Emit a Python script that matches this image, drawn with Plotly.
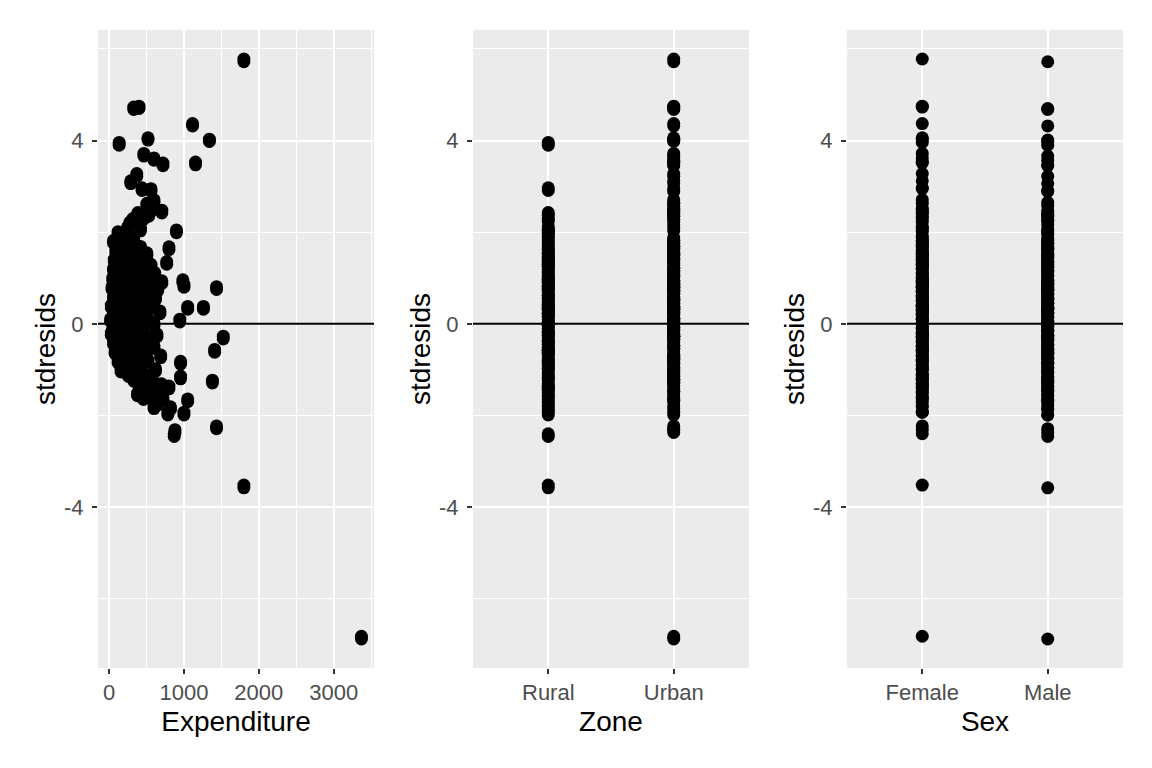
import plotly.graph_objects as go
from plotly.subplots import make_subplots

# one entry per household; each household has a female and a male residual
expenditure = [
    1800, 3370, 1800, 330, 400, 1115, 1340, 520, 135, 465,
    600, 720, 1155, 370, 290, 440, 560, 505, 600, 385,
    530, 705, 900, 280, 120, 95, 800, 770, 505, 225,
    705, 985, 1000, 1435, 1050, 1260, 945, 1525, 1410, 1380,
    955, 955, 800, 1050, 1000, 785, 650, 870, 880, 1435,
    320, 250, 420, 460, 560, 180, 330, 260, 60, 150,
    420, 90, 310, 200, 380, 70, 450, 300, 130, 300,
    560, 60, 240, 420, 110, 350, 610, 50, 200, 480,
    140, 300, 550, 40, 230, 420, 650, 100, 330, 500,
    60, 200, 400, 620, 150, 280, 460, 30, 220, 350,
    560, 100, 300, 480, 680, 60, 180, 400, 20, 250,
    520, 120, 340, 600, 50, 220, 450, 30, 160, 380,
    640, 90, 280, 520, 60, 200, 420, 130, 330, 600,
    80, 250, 480, 160, 380, 690, 120, 300, 520, 200,
    420, 160, 350, 620, 260, 500, 330, 580, 400, 700,
    480, 620, 560, 380, 460, 720, 600, 820,
]
zone = [
    "Urban", "Urban", "Rural", "Urban", "Urban", "Urban", "Urban", "Urban", "Rural", "Urban",
    "Urban", "Urban", "Urban", "Urban", "Urban", "Rural", "Urban", "Urban", "Urban", "Rural",
    "Urban", "Urban", "Rural", "Urban", "Rural", "Urban", "Urban", "Rural", "Urban", "Rural",
    "Urban", "Rural", "Urban", "Urban", "Rural", "Urban", "Urban", "Urban", "Rural", "Urban",
    "Rural", "Urban", "Rural", "Urban", "Rural", "Urban", "Rural", "Rural", "Urban", "Urban",
    "Rural", "Rural", "Urban", "Urban", "Urban", "Rural", "Urban", "Rural", "Urban", "Urban",
    "Rural", "Rural", "Urban", "Urban", "Rural", "Urban", "Urban", "Rural", "Rural", "Urban",
    "Rural", "Urban", "Rural", "Urban", "Rural", "Urban", "Urban", "Urban", "Rural", "Rural",
    "Urban", "Rural", "Urban", "Rural", "Urban", "Rural", "Urban", "Urban", "Rural", "Urban",
    "Rural", "Urban", "Rural", "Urban", "Urban", "Rural", "Urban", "Rural", "Urban", "Urban",
    "Rural", "Urban", "Rural", "Urban", "Urban", "Rural", "Urban", "Rural", "Urban", "Rural",
    "Urban", "Rural", "Urban", "Rural", "Urban", "Rural", "Urban", "Rural", "Urban", "Rural",
    "Urban", "Urban", "Rural", "Urban", "Rural", "Urban", "Rural", "Urban", "Rural", "Urban",
    "Rural", "Urban", "Rural", "Urban", "Urban", "Rural", "Rural", "Urban", "Urban", "Urban",
    "Rural", "Rural", "Urban", "Urban", "Urban", "Rural", "Rural", "Urban", "Urban", "Rural",
    "Rural", "Urban", "Urban", "Rural", "Rural", "Urban", "Urban", "Rural",
]
resid_female = [
    5.78, -6.82, -3.52, 4.73, 4.75, 4.37, 4.03, 4.06, 3.96, 3.72,
    3.62, 3.51, 3.53, 3.28, 3.12, 2.97, 2.95, 2.63, 2.71, 2.43,
    2.41, 2.48, 2.05, 2.22, 2.01, 1.75, 1.68, 1.36, 1.55, 1.46,
    0.94, 0.96, 0.86, 0.81, 0.38, 0.38, 0.10, -0.27, -0.56, -1.23,
    -0.82, -1.14, -1.36, -1.64, -1.93, -1.93, -1.71, -2.40, -2.31, -2.23,
    2.30, 2.12, 2.09, 2.34, 2.52, 1.91, 1.88, 1.80, 1.82, 1.71,
    1.69, 1.61, 1.58, 1.50, 1.52, 1.41, 1.39, 1.42, 1.31, 1.28,
    1.30, 1.21, 1.19, 1.22, 1.11, 1.09, 1.12, 1.01, 0.99, 1.02,
    0.91, 0.89, 0.92, 0.81, 0.79, 0.82, 0.78, 0.71, 0.69, 0.72,
    0.61, 0.59, 0.62, 0.58, 0.51, 0.49, 0.52, 0.41, 0.39, 0.42,
    0.40, 0.31, 0.29, 0.32, 0.28, 0.21, 0.19, 0.22, 0.11, 0.09,
    0.12, 0.01, -0.01, 0.02, -0.09, -0.11, -0.08, -0.19, -0.21, -0.18,
    -0.22, -0.29, -0.31, -0.28, -0.39, -0.41, -0.38, -0.49, -0.51, -0.48,
    -0.59, -0.61, -0.58, -0.69, -0.71, -0.68, -0.79, -0.81, -0.78, -0.89,
    -0.91, -0.99, -1.01, -0.98, -1.09, -1.11, -1.19, -1.21, -1.29, -1.31,
    -1.39, -1.41, -1.49, -1.51, -1.59, -1.61, -1.79, -1.81,
]
resid_male = [
    5.72, -6.88, -3.58, 4.68, 4.70, 4.32, 3.98, 4.01, 3.90, 3.66,
    3.57, 3.45, 3.47, 3.22, 3.06, 2.91, 2.89, 2.57, 2.65, 2.37,
    2.35, 2.42, 1.99, 2.16, 1.95, 1.69, 1.62, 1.30, 1.49, 1.40,
    0.88, 0.90, 0.80, 0.75, 0.32, 0.32, 0.04, -0.33, -0.62, -1.29,
    -0.88, -1.20, -1.42, -1.70, -1.99, -1.99, -1.77, -2.46, -2.37, -2.29,
    2.24, 2.06, 2.03, 2.28, 2.46, 1.85, 1.82, 1.74, 1.76, 1.65,
    1.63, 1.55, 1.52, 1.44, 1.46, 1.35, 1.33, 1.36, 1.25, 1.22,
    1.24, 1.15, 1.13, 1.16, 1.05, 1.03, 1.06, 0.95, 0.93, 0.96,
    0.85, 0.83, 0.86, 0.75, 0.73, 0.76, 0.72, 0.65, 0.63, 0.66,
    0.55, 0.53, 0.56, 0.52, 0.45, 0.43, 0.46, 0.35, 0.33, 0.36,
    0.34, 0.25, 0.23, 0.26, 0.22, 0.15, 0.13, 0.16, 0.05, 0.03,
    0.06, -0.05, -0.07, -0.04, -0.15, -0.17, -0.14, -0.25, -0.27, -0.24,
    -0.28, -0.35, -0.37, -0.34, -0.45, -0.47, -0.44, -0.55, -0.57, -0.54,
    -0.65, -0.67, -0.64, -0.75, -0.77, -0.74, -0.85, -0.87, -0.84, -0.95,
    -0.97, -1.05, -1.07, -1.04, -1.15, -1.17, -1.25, -1.27, -1.35, -1.37,
    -1.45, -1.47, -1.55, -1.57, -1.65, -1.67, -1.85, -1.87,
]
zone_levels = ["Rural", "Urban"]
sex_levels = ["Female", "Male"]

n = len(expenditure)
stdresids = resid_female + resid_male
exp_all = expenditure + expenditure
zone_all = zone + zone
sex_all = ["Female"] * n + ["Male"] * n

FONT = "Liberation Sans, Arial, sans-serif"
BG = "#EBEBEB"

fig = make_subplots(rows=1, cols=3)

marker = dict(color="black", size=13, line=dict(width=0))
fig.add_trace(go.Scatter(x=exp_all, y=stdresids, mode="markers", marker=marker), row=1, col=1)
fig.add_trace(go.Scatter(x=zone_all, y=stdresids, mode="markers", marker=marker), row=1, col=2)
fig.add_trace(go.Scatter(x=sex_all, y=stdresids, mode="markers", marker=marker), row=1, col=3)

# ggplot-style 5% expansion of the continuous ranges
ymin, ymax = min(stdresids), max(stdresids)
ypad = 0.05 * (ymax - ymin)
xmin, xmax = min(expenditure), max(expenditure)
xpad = 0.05 * (xmax - xmin)

# the page body has an 8px margin, so the figure starts at (8, 8) in the window
OFF = 8
W, H = 1152 - OFF, 768 - OFF
panels_px = [(98, 374), (473, 749), (847, 1123)]
ydom = [1 - (668 - OFF) / H, 1 - (30 - OFF) / H]

tick_style = dict(
    ticks="outside", ticklen=5, tickwidth=2, tickcolor="#333333",
    tickfont=dict(family=FONT, size=22, color="#4D4D4D"),
    showgrid=True, gridcolor="white", gridwidth=2,
    zeroline=False, showline=False,
)

for i, (a, b) in enumerate(panels_px, start=1):
    fig.update_yaxes(
        domain=ydom, range=[ymin - ypad, ymax + ypad],
        tickvals=[-4, 0, 4], ticktext=["-4", "0", "4"], ticklabelstandoff=4,
        minor=dict(tickvals=[-6, -2, 2, 6], showgrid=True, gridcolor="white", gridwidth=1, ticks=""),
        title=dict(text="stdresids", font=dict(family=FONT, size=28, color="black"), standoff=0),
        row=1, col=i, **tick_style,
    )
    fig.update_xaxes(domain=[(a - OFF) / W, (b - OFF) / W], row=1, col=i, **tick_style)
    fig.add_shape(
        type="line", xref=f"x{'' if i == 1 else i} domain", yref=f"y{'' if i == 1 else i}",
        x0=0, x1=1, y0=0, y1=0, line=dict(color="black", width=2), layer="above",
    )

fig.update_xaxes(
    range=[xmin - xpad, xmax + xpad], tickvals=[0, 1000, 2000, 3000],
    minor=dict(tickvals=[500, 1500, 2500, 3500], showgrid=True, gridcolor="white", gridwidth=1, ticks=""),
    title=dict(text="Expenditure", font=dict(family=FONT, size=28, color="black"), standoff=6),
    row=1, col=1,
)
fig.update_xaxes(
    type="category", categoryorder="array", categoryarray=zone_levels, range=[-0.6, 1.6],
    title=dict(text="Zone", font=dict(family=FONT, size=28, color="black"), standoff=6),
    row=1, col=2,
)
fig.update_xaxes(
    type="category", categoryorder="array", categoryarray=sex_levels, range=[-0.6, 1.6],
    title=dict(text="Sex", font=dict(family=FONT, size=28, color="black"), standoff=6),
    row=1, col=3,
)

fig.update_layout(
    width=W, height=H,
    margin=dict(l=0, r=0, t=0, b=0),
    paper_bgcolor="white", plot_bgcolor=BG,
    showlegend=False,
    font=dict(family=FONT),
)

fig.write_html("out.html")
